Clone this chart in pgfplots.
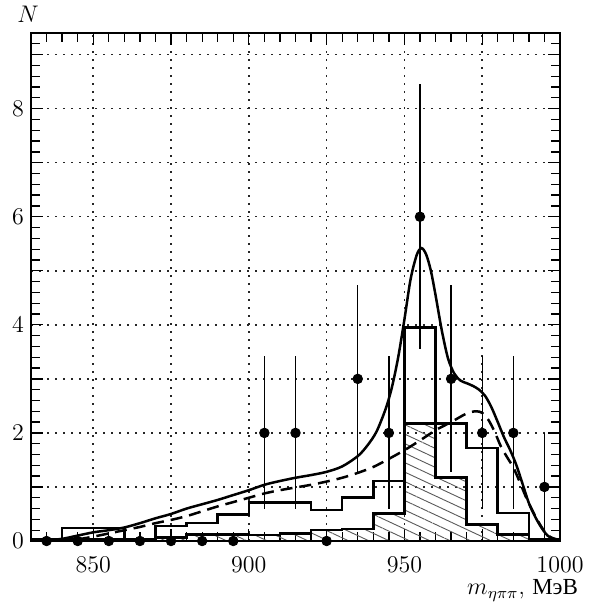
\documentclass[border=0pt]{standalone}
\usepackage{fontspec}
\usepackage{pgfplots}
\pgfplotsset{compat=1.18}
\usetikzlibrary{patterns.meta}
\newfontfamily\cyrfont{Liberation Serif}

% measured events with sqrt(N) errors
\pgfplotstableread{
x   y  e
835 0  0
845 0  0
855 0  0
865 0  0
875 0  0
885 0  0
895 0  0
905 2  1.414
915 2  1.414
925 0  0
935 3  1.732
945 2  1.414
955 6  2.449
965 3  1.732
975 2  1.414
985 2  1.414
995 1  1
}\datapoints

\begin{document}
\begin{tikzpicture}
\begin{axis}[
  scale only axis, width=264.5pt, height=254pt,
  xmin=830, xmax=1000, ymin=0, ymax=9.4,
  xtick={850,875,...,1000}, xticklabels={850,,900,,950,,1000},
  ytick={0,1,...,9}, yticklabels={0,,2,,4,,6,,8,},
  minor xtick={835,840,...,995},
  minor ytick={0.2,0.4,...,9.3},
  tick align=inside, tick pos=both,
  major tick length=6pt, minor tick length=4.5pt,
  tick style={line width=0.65pt, black},
  axis line style={line width=1.1pt},
  grid=major,
  major grid style={black!85, line width=0.75pt, dash pattern=on 0.8pt off 3.2pt},
  tick label style={font=\fontsize{12}{14}\selectfont},
  xticklabel style={yshift=-4pt},
  clip=false,
]
\coordinate (SW) at (rel axis cs:0,0);
\coordinate (NE) at (rel axis cs:1,1);

% hatched histogram
\addplot[const plot, line width=1.3pt,
  pattern={Lines[angle=-25,distance=4.3pt,line width=0.45pt]}, pattern color=black!65]
  coordinates {(830,0.03) (840,0.03) (850,0.03) (860,0.03) (870,0.06) (880,0.12)
    (890,0.12) (900,0.11) (910,0.14) (920,0.2) (930,0.22) (940,0.51) (950,2.17)
    (960,1.18) (970,0.3) (980,0.12) (990,0.03) (1000,0.03)} \closedcycle;

% open histogram
\addplot[const plot, line width=1.3pt]
  coordinates {(830,0.03) (840,0.24) (850,0.24) (860,0.03) (870,0.28) (880,0.33)
    (890,0.49) (900,0.71) (910,0.71) (920,0.57) (930,0.8) (940,1.11) (950,3.95)
    (960,2.17) (970,1.72) (980,0.52) (990,0.03) (1000,0.03)};

% solid curve
\addplot[smooth, line width=1.25pt]
  coordinates {(836,0.02) (840,0.04) (845,0.1) (850,0.16) (855,0.2) (860,0.25)
    (865,0.33) (870,0.42) (875,0.5) (880,0.6) (885,0.68) (890,0.76) (895,0.85)
    (900,0.94) (905,1.04) (910,1.11) (915,1.17) (920,1.22) (925,1.28) (930,1.38)
    (935,1.57) (938,1.76) (941,2.02) (944,2.45) (946,2.85) (948,3.4) (950,4.1)
    (952,4.85) (954,5.3) (955.5,5.42) (957,5.3) (958.5,5.0) (960,4.55) (962,3.9)
    (964,3.38) (966,3.1) (968,2.97) (970,2.92) (972,2.87) (974,2.8) (976,2.68)
    (978,2.47) (980,2.2) (982,1.92) (984,1.68) (986,1.4) (988,1.05) (990,0.7)
    (992,0.45) (994,0.25) (996,0.1) (998,0.04) (1000,0.02)};

% dashed curve
\addplot[smooth, line width=1.25pt, dash pattern=on 6pt off 3.5pt]
  coordinates {(845,0.03) (850,0.08) (855,0.14) (860,0.2) (865,0.26) (870,0.33)
    (875,0.39) (880,0.46) (885,0.55) (890,0.64) (895,0.72) (900,0.8) (905,0.88)
    (910,0.94) (915,0.99) (920,1.04) (925,1.1) (930,1.17) (935,1.26) (940,1.37)
    (945,1.52) (950,1.68) (955,1.86) (960,2.05) (965,2.2) (970,2.36) (973,2.4)
    (975,2.37) (977,2.24) (979,2.02) (981,1.75) (983,1.55) (985,1.36) (987,1.1)
    (989,0.82) (991,0.58) (993,0.36) (995,0.18) (997,0.07) (999,0.03)};

% data points
\addplot[only marks, mark=*, mark size=2.4pt, black,
  error bars/.cd, y dir=both, y explicit, error mark=none,
  error bar style={line width=0.7pt}]
  table[x=x, y=y, y error=e] {\datapoints};

\node[anchor=base, xshift=-1.5pt, yshift=5pt, font=\fontsize{11.5}{13}\selectfont]
  at (axis description cs:0,1) {$N$};
\node[anchor=base east, xshift=12.5pt, yshift=-27pt, font=\fontsize{11.5}{13}\selectfont]
  at (axis description cs:1,0) {$m_{\eta\pi\pi}$,\ {\cyrfont МэВ}};
\end{axis}
\pgfresetboundingbox
\path[use as bounding box] ([shift={(-15.5pt,-32.5pt)}]SW) rectangle ([shift={(18.5pt,16.5pt)}]NE);
\end{tikzpicture}
\end{document}
